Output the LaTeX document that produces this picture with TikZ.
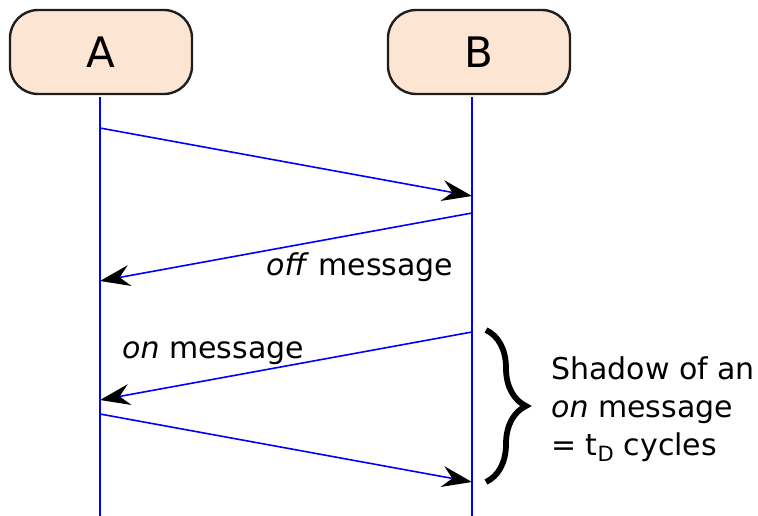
\documentclass[tikz,border=0pt]{standalone}
\usepackage{fontspec}
\setmainfont{DejaVu Sans}
\usetikzlibrary{arrows.meta,decorations.pathreplacing}
\definecolor{peach}{HTML}{FDE5D3}
\definecolor{frame}{HTML}{1E1E1E}
\begin{document}
\begin{tikzpicture}[x=1pt,y=-1pt,
  actor/.style={draw=frame,line width=2.4pt,fill=peach,rounded corners=28pt,
    minimum width=182pt,minimum height=84pt,inner sep=0pt,
    font=\fontsize{42}{48}\selectfont},
  lifeline/.style={draw=blue,line width=1.6pt},
  msg/.style={draw=blue,line width=1.6pt,
    -{Stealth[length=30pt,width=21pt,inset=10pt,fill=black,color=black]}},
  lbl/.style={font=\fontsize{30}{36}\selectfont,inner sep=0pt},
  shadowbrace/.style={draw=black,line width=5.8pt,decorate,
    decoration={brace,amplitude=40pt}}]
\useasboundingbox (0,0) rectangle (758,516);

% participants
\node[actor] (A) at (101,52) {A};
\node[actor] (B) at (479,52) {B};

% lifelines
\coordinate (Atop) at (100,97);
\coordinate (Abot) at (100,516);
\coordinate (Btop) at (472,97);
\coordinate (Bbot) at (472,516);
\draw[lifeline] (Atop) -- (Abot);
\draw[lifeline] (Btop) -- (Bbot);

% message end points on the lifelines
\coordinate (a1) at (100,128);
\coordinate (b1) at (472,196);
\coordinate (b2) at (472,213);
\coordinate (a2) at (100,281);
\coordinate (b3) at (472,332);
\coordinate (a3) at (100,400);
\coordinate (a4) at (100,414);
\coordinate (b4) at (472,482);

% messages
\draw[msg] (a1) -- (b1);
\draw[msg] (b2) -- (a2);
\draw[msg] (b3) -- (a3);
\draw[msg] (a4) -- (b4);

% message labels
\node[lbl,anchor=base west] (offlbl) at (266,275) {\textit{off} message};
\node[lbl,anchor=base west] (onlbl) at (122,358) {\textit{on} message};

% shadow interval
\coordinate (brtop) at (486,330);
\coordinate (brbot) at (486,482);
\draw[shadowbrace] (brtop) -- (brbot);
\node[lbl,anchor=west,align=left,font=\fontsize{30}{38}\selectfont] (shadow) at (551,409)
  {Shadow of an\\\textit{on} message\\= t\textsubscript{D} cycles};
\end{tikzpicture}
\end{document}
